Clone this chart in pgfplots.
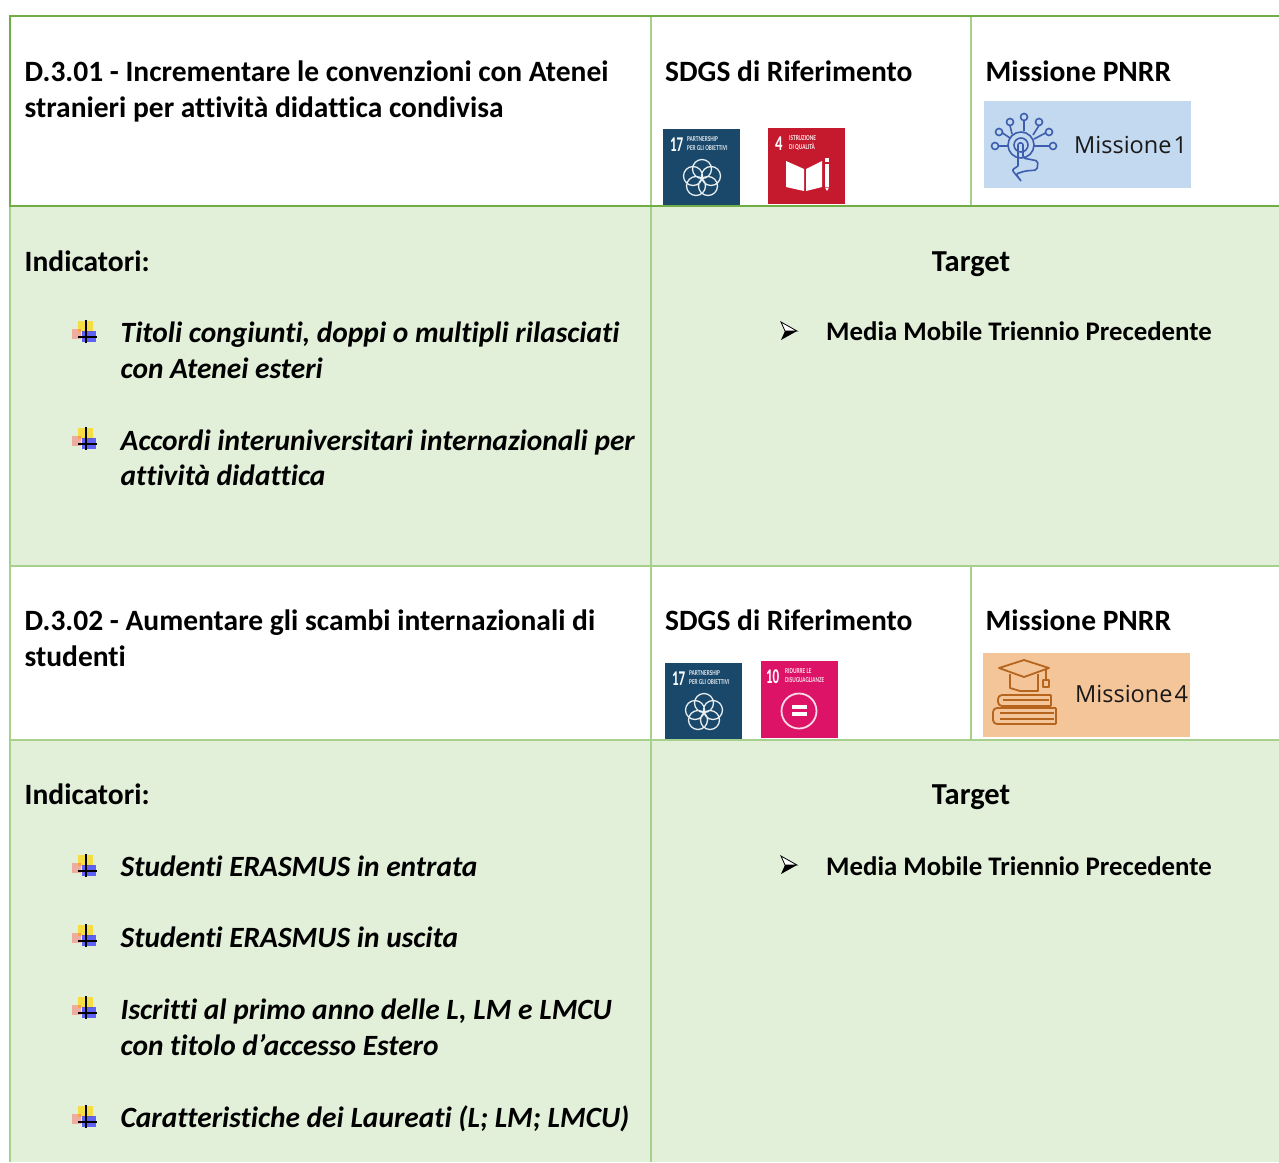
\documentclass[border=0pt]{standalone}
\usepackage{pgfplots}
\pgfplotsset{compat=1.18}
\usepackage{fontspec}
\setmainfont[RawFeature={-liga;-dlig;-clig}]{Carlito}
\newfontfamily\missfont{Open Sans}
\definecolor{dk}{HTML}{70AD47}
\definecolor{lt}{HTML}{A8D08D}
\definecolor{pale}{HTML}{E2EFD9}
\definecolor{sdgblue}{HTML}{19486A}
\definecolor{sdgred}{HTML}{C5192D}
\definecolor{sdgpink}{HTML}{DD1367}
\definecolor{mblue}{HTML}{C3D9EF}
\definecolor{morange}{HTML}{F4C598}
\definecolor{iconblue}{HTML}{3D5DAE}
\definecolor{iconbrown}{HTML}{B5651D}
\newcommand\T[3]{\node[anchor=base west,inner sep=0pt,font=\fontsize{29.5}{30}\selectfont\bfseries] at (axis cs:#1,#2) {#3};}
\newcommand\TS[3]{\node[anchor=base west,inner sep=0pt,font=\fontsize{26.8}{30}\selectfont\bfseries] at (axis cs:#1,#2) {#3};}
\newcommand\I[3]{\node[anchor=base west,inner sep=0pt,font=\fontsize{29.4}{30}\selectfont\bfseries\itshape] at (axis cs:#1,#2) {#3};}
\newcommand\Rect[5]{\addplot[fill=#5,draw=none,forget plot] coordinates {(#1,#2) (#3,#2) (#3,#4) (#1,#4)} --cycle;}
\newcommand\Ln[5]{\addplot[#5,line width=2pt,forget plot] coordinates {(#1,#2) (#3,#4)};}
% bullet: #1 is the y of the horizontal stroke
\newcommand\Bul[1]{%
 \fill[yellow!75!orange,opacity=.7] (axis cs:78,{#1-16}) rectangle (axis cs:93,{#1-5});
 \fill[red!70,opacity=.4] (axis cs:72,{#1-8}) rectangle (axis cs:81,{#1+2});
 \fill[blue!85,opacity=.7] (axis cs:82,{#1-6}) rectangle (axis cs:96,{#1+5});
 \draw[black,line width=1.2pt] (axis cs:86,{#1-17}) -- (axis cs:86,{#1+6});
 \draw[black,line width=1.2pt] (axis cs:78,#1) -- (axis cs:97,#1);}
\newcommand\Arr[1]{%
 \draw[black,line width=.8pt,fill=white] (axis cs:781,{#1-9}) -- (axis cs:797,#1) -- (axis cs:785,#1) -- cycle;
 \fill[black] (axis cs:781,{#1+9}) -- (axis cs:797,#1) -- (axis cs:785,#1) -- cycle;}
% partnership tile: top-left corner
\newcommand\Partner[2]{%
 \Rect{#1}{#2}{#1+77}{#2+76}{sdgblue}
 \node[anchor=base west,inner sep=0pt,text=white,xscale=.62,font=\fontsize{21}{21}\selectfont\bfseries] at (axis cs:{#1+7},{#2+22}) {17};
 \node[anchor=base west,inner sep=0pt,text=white!85!sdgblue,xscale=.72,font=\fontsize{7.5}{8}\selectfont\bfseries] at (axis cs:{#1+24},{#2+12}) {PARTNERSHIP};
 \node[anchor=base west,inner sep=0pt,text=white!85!sdgblue,xscale=.72,font=\fontsize{7.5}{8}\selectfont\bfseries] at (axis cs:{#1+24},{#2+21}) {PER GLI OBIETTIVI};
 \draw[white!90!sdgblue,line width=1.3pt] (axis cs:{#1+39},{#2+40}) circle[radius=9.5]
   (axis cs:{#1+48},{#2+47}) circle[radius=9.5]
   (axis cs:{#1+45},{#2+57}) circle[radius=9.5]
   (axis cs:{#1+33},{#2+57}) circle[radius=9.5]
   (axis cs:{#1+30},{#2+47}) circle[radius=9.5];}
\begin{document}
\begin{tikzpicture}
\begin{axis}[scale only axis,width=1279pt,height=1162pt,xmin=0,xmax=1279,ymin=0,ymax=1162,y dir=reverse,axis lines=none,clip=true]
\path[use as bounding box] (axis cs:0,0) rectangle (axis cs:1279,1162);
% shaded panels
\Rect{10}{206}{1279}{566}{pale}
\Rect{10}{740}{1279}{1162}{pale}
% rules
\Ln{651}{16}{651}{1162}{lt}
\Ln{971}{16}{971}{206}{lt}
\Ln{971}{566}{971}{740}{lt}
\Ln{10}{566}{1279}{566}{lt}
\Ln{10}{740}{1279}{740}{lt}
\Ln{10}{206}{10}{1162}{lt}
\Ln{10}{16}{10}{206}{dk}
\Ln{9}{16}{1279}{16}{dk}
\Ln{9}{206}{1279}{206}{dk}
% first block
\T{24.5}{81}{D.3.01 - Incrementare le convenzioni con Atenei}
\T{24.5}{117}{stranieri per attività didattica condivisa}
\T{665}{81}{SDGS di Riferimento}
\T{985.5}{81}{Missione PNRR}
\T{24.5}{271}{Indicatori:}
\node[anchor=base,inner sep=0pt,font=\fontsize{30.5}{30}\selectfont\bfseries] at (axis cs:971,271) {Target};
\Bul{337}
\I{120.5}{342}{Titoli congiunti, doppi o multipli rilasciati}
\I{120.5}{378}{con Atenei esteri}
\Bul{444}
\I{120.5}{450}{Accordi interuniversitari internazionali per}
\I{120.5}{485}{attività didattica}
\Arr{331}
\TS{826}{340}{Media Mobile Triennio Precedente}
% second block
\T{24.5}{630}{D.3.02 - Aumentare gli scambi internazionali di}
\T{24.5}{666}{studenti}
\T{665}{630}{SDGS di Riferimento}
\T{985.5}{630}{Missione PNRR}
\T{24.5}{804}{Indicatori:}
\node[anchor=base,inner sep=0pt,font=\fontsize{30.5}{30}\selectfont\bfseries] at (axis cs:971,804) {Target};
\Bul{871}
\I{120.5}{876}{Studenti ERASMUS in entrata}
\Bul{941}
\I{120.5}{947}{Studenti ERASMUS in uscita}
\Bul{1013}
\I{120.5}{1019}{Iscritti al primo anno delle L, LM e LMCU}
\I{120.5}{1055}{con titolo d’accesso Estero}
\Bul{1122}
\I{120.5}{1127}{Caratteristiche dei Laureati (L; LM; LMCU)}
\Arr{865}
\TS{826}{875}{Media Mobile Triennio Precedente}
% SDG tiles, first block
\Partner{663}{129}
\Rect{768}{128}{845}{204}{sdgred}
\node[anchor=base west,inner sep=0pt,text=white,xscale=.7,font=\fontsize{21}{21}\selectfont\bfseries] at (axis cs:775,150) {4};
\node[anchor=base west,inner sep=0pt,text=white!90!sdgred,xscale=.72,font=\fontsize{7.5}{8}\selectfont\bfseries] at (axis cs:789,140) {ISTRUZIONE};
\node[anchor=base west,inner sep=0pt,text=white!90!sdgred,xscale=.72,font=\fontsize{7.5}{8}\selectfont\bfseries] at (axis cs:789,149) {DI QUALITÀ};
\fill[white] (axis cs:786,161) -- (axis cs:804,169) -- (axis cs:804,191) -- (axis cs:786,187) -- cycle;
\fill[white] (axis cs:806,169) -- (axis cs:822,161) -- (axis cs:822,187) -- (axis cs:806,191) -- cycle;
\fill[white] (axis cs:825,164) rectangle (axis cs:829,187);
\fill[white] (axis cs:825,187.5) -- (axis cs:829,187.5) -- (axis cs:827,191) -- cycle;
\fill[white] (axis cs:825,158) rectangle (axis cs:829,162);
% SDG tiles, second block
\Partner{665}{663}
\Rect{761}{661}{838}{738}{sdgpink}
\node[anchor=base west,inner sep=0pt,text=white,xscale=.62,font=\fontsize{21}{21}\selectfont\bfseries] at (axis cs:766,683) {10};
\node[anchor=base west,inner sep=0pt,text=white!85!sdgpink,xscale=.72,font=\fontsize{7.5}{8}\selectfont\bfseries] at (axis cs:785,673) {RIDURRE LE};
\node[anchor=base west,inner sep=0pt,text=white!85!sdgpink,xscale=.7,font=\fontsize{7.5}{8}\selectfont\bfseries] at (axis cs:785,682) {DISUGUAGLIANZE};
\draw[white!85!sdgpink,line width=1.8pt] (axis cs:799,711) circle[radius=17.5];
\fill[white] (axis cs:792,704.5) rectangle (axis cs:807,708.5);
\fill[white] (axis cs:792,712) rectangle (axis cs:807,716);
% mission 1
\Rect{984}{101}{1191}{188}{mblue}
\node[anchor=base west,inner sep=0pt,text=black!90,font=\fontsize{23.5}{24}\selectfont\missfont] at (axis cs:1074,153) {Missione\hspace{2pt}1};
\draw[iconblue,line width=1.6pt]
 (axis cs:1021,145) circle[radius=13]
 (axis cs:1024,117) circle[radius=3.5] (axis cs:1024,120.5) -- (axis cs:1024,131)
 (axis cs:1010,122) circle[radius=3.5] (axis cs:1010,125.5) -- (axis cs:1012,134)
 (axis cs:1039,122) circle[radius=3.5] (axis cs:1039,125.5) -- (axis cs:1033,135)
 (axis cs:999,132) circle[radius=3.5] (axis cs:1002.5,133) -- (axis cs:1010,138)
 (axis cs:1049,132) circle[radius=3.5] (axis cs:1045.5,133) -- (axis cs:1034,139)
 (axis cs:995,146) circle[radius=3.5] (axis cs:998.5,146) -- (axis cs:1008,146)
 (axis cs:1053,146) circle[radius=3.5] (axis cs:1049.5,146) -- (axis cs:1034,146)
 (axis cs:1021,145) circle[radius=7];
\draw[iconblue,line width=1.6pt,rounded corners=2pt]
 (axis cs:1018,166) -- (axis cs:1018,143) -- (axis cs:1023,143) -- (axis cs:1023,158) -- (axis cs:1038,161) -- (axis cs:1037,170) -- (axis cs:1025,171) -- (axis cs:1016,174) -- (axis cs:1021,181)
 (axis cs:1018,166) -- (axis cs:1012,170) -- (axis cs:1021,181);
% mission 4
\Rect{983}{653}{1190}{737}{morange}
\node[anchor=base west,inner sep=0pt,text=black!90,font=\fontsize{23.5}{24}\selectfont\missfont] at (axis cs:1075,702) {Missione\hspace{2pt}4};
\draw[iconbrown,line width=1.8pt,line join=round]
 (axis cs:999,668) -- (axis cs:1024,660) -- (axis cs:1049,668) -- (axis cs:1024,677) -- cycle
 (axis cs:1010,674) -- (axis cs:1010,688) -- (axis cs:1020,691) -- (axis cs:1038,691) -- (axis cs:1038,674)
 (axis cs:1046,669) -- (axis cs:1046,680)
 (axis cs:1043,680) rectangle (axis cs:1049,687);
\draw[iconbrown,line width=1.8pt,line join=round,rounded corners=4pt]
 (axis cs:1051,695) -- (axis cs:998,695) -- (axis cs:998,706) -- (axis cs:1051,706)
 (axis cs:1056,708) -- (axis cs:993,708) -- (axis cs:993,724) -- (axis cs:1056,724);
\draw[iconbrown,line width=1.8pt]
 (axis cs:1051,695) -- (axis cs:1051,706)
 (axis cs:1056,708) -- (axis cs:1056,724)
 (axis cs:1003,700) -- (axis cs:1049,700)
 (axis cs:1000,713) -- (axis cs:1054,713)
 (axis cs:1000,719) -- (axis cs:1054,719);
\end{axis}
\end{tikzpicture}
\end{document}
